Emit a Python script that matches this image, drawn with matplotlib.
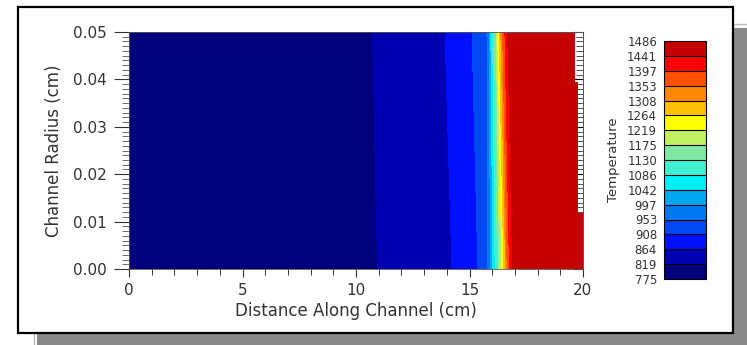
import matplotlib.pyplot as plt
from matplotlib.patches import Rectangle, Polygon
from matplotlib.ticker import MultipleLocator
import numpy as np

# contour levels and band colours (bottom to top)
levels = [775, 819, 864, 908, 953, 997, 1042, 1086, 1130, 1175,
          1219, 1264, 1308, 1353, 1397, 1441, 1486]
band_colors = ['#00007c', '#0000b2', '#0010ff', '#0048f4', '#0078f0',
               '#00a8f0', '#00f0f8', '#40f0d0', '#80e8a0', '#c0f060',
               '#ffff00', '#ffc000', '#ff8800', '#ff5000', '#ff0000',
               '#c60000']

# temperature along the channel, same values at both radii
temp = [790, 819, 864, 908, 953, 997, 1042, 1086, 1130, 1175,
        1219, 1264, 1308, 1353, 1397, 1441, 1480]
# where those temperatures sit along the channel at r = 0 and r = 0.05
x_bottom = [0, 10.95, 14.23, 15.37, 15.81, 15.93, 16.03, 16.13, 16.23,
            16.33, 16.43, 16.51, 16.59, 16.66, 16.76, 16.90, 20]
x_top = [0, 10.73, 13.92, 15.11, 15.77, 15.86, 15.94, 16.02, 16.10,
         16.18, 16.24, 16.31, 16.38, 16.46, 16.56, 16.68, 20]
radius = [0.0, 0.05]

# outline of the mesh near the channel exit
mesh_x = [0, 20, 20, 19.8, 19.8, 19.65, 19.65, 0]
mesh_r = [0, 0, 0.0118, 0.0118, 0.0395, 0.0395, 0.05, 0.05]

X = np.array([x_bottom, x_top])
Y = np.array([[radius[0]] * len(temp), [radius[1]] * len(temp)])
Z = np.array([temp, temp])

plt.rcParams['font.family'] = ['DejaVu Sans']
fig = plt.figure(figsize=(7.47, 3.45), dpi=100)

W, H = 747.0, 345.0
def fx(px):
    return px / W
def fy(py):
    return 1 - py / H

# shadow and frame
fig.patches.append(Rectangle((fx(37), fy(360)), fx(760) - fx(37), fy(28) - fy(360),
                             transform=fig.transFigure, facecolor='#8a8a8a',
                             edgecolor='none', zorder=0))
fig.patches.append(Rectangle((fx(34), fy(360)), fx(760) - fx(34), fy(24) - fy(360),
                             transform=fig.transFigure, facecolor='none',
                             edgecolor='#b8b8b8', lw=1.0, zorder=0.5))
fig.patches.append(Rectangle((fx(18), fy(333)), fx(733) - fx(18), fy(7) - fy(333),
                             transform=fig.transFigure, facecolor='white',
                             edgecolor='black', lw=1.6, zorder=1))

ax = fig.add_axes([fx(129), fy(269), fx(583) - fx(129), fy(32) - fy(269)])
ax.set_zorder(2)
cs = ax.contourf(X, Y, Z, levels=levels, colors=band_colors)
clip = Polygon(list(zip(mesh_x, mesh_r)), closed=True, transform=ax.transData)
cs.set_clip_path(clip)

ax.set_xlim(0, 20)
ax.set_ylim(0, 0.05)
ax.xaxis.set_major_locator(MultipleLocator(5))
ax.xaxis.set_minor_locator(MultipleLocator(1))
ax.yaxis.set_major_locator(MultipleLocator(0.01))
ax.yaxis.set_minor_locator(MultipleLocator(0.001))
ax.yaxis.set_major_formatter(plt.FormatStrFormatter('%.2f'))
ax.tick_params(axis='x', which='major', direction='out', labelsize=11,
               length=6, width=0.8, pad=4, colors='#333333')
ax.tick_params(axis='x', which='minor', direction='out', length=4, width=0.7,
               colors='#333333')
ax.tick_params(axis='y', which='major', direction='out', length=11, width=0.8,
               pad=5, labelsize=11, colors='#333333')
ax.tick_params(axis='y', which='minor', direction='out', length=5, width=0.6,
               colors='#555555')
for s in ax.spines.values():
    s.set_linewidth(0.6)
    s.set_color('#555555')

# inward ticks on the right and top edges
ax2 = ax.secondary_yaxis('right')
ax2.yaxis.set_major_locator(MultipleLocator(0.01))
ax2.yaxis.set_minor_locator(MultipleLocator(0.001))
ax2.tick_params(which='major', direction='in', length=7, width=0.8, labelright=False)
ax2.tick_params(which='minor', direction='in', length=5, width=0.6, colors='#333333')
ax2.spines['right'].set_linewidth(0.6)
ax2.spines['right'].set_color('#555555')
ax3 = ax.secondary_xaxis('top')
ax3.xaxis.set_major_locator(MultipleLocator(1))
ax3.tick_params(direction='in', length=3, width=0.8, labeltop=False, colors='#333333')
ax3.spines['top'].set_linewidth(0.6)
ax3.spines['top'].set_color('#555555')

ax.set_xlabel('Distance Along Channel (cm)', fontsize=12, labelpad=3, color='#333333')
ax.set_ylabel('Channel Radius (cm)', fontsize=12, labelpad=7, color='#333333')

cax = fig.add_axes([fx(664), fy(279), fx(706) - fx(664), fy(41) - fy(279)])
cax.set_zorder(2)
cb = fig.colorbar(cs, cax=cax, ticks=levels, drawedges=True)
cb.outline.set_linewidth(0.8)
cb.dividers.set_color('black')
cb.dividers.set_linewidth(0.8)
cax.yaxis.set_ticks_position('left')
cax.yaxis.set_label_position('left')
cax.set_yticklabels([str(v) for v in levels])
cax.tick_params(length=0, pad=5, labelsize=8.5, colors='#333333')
cax.set_ylabel('Temperature', fontsize=9.5, labelpad=5, color='#333333')

fig.savefig('out.png', dpi=100)
